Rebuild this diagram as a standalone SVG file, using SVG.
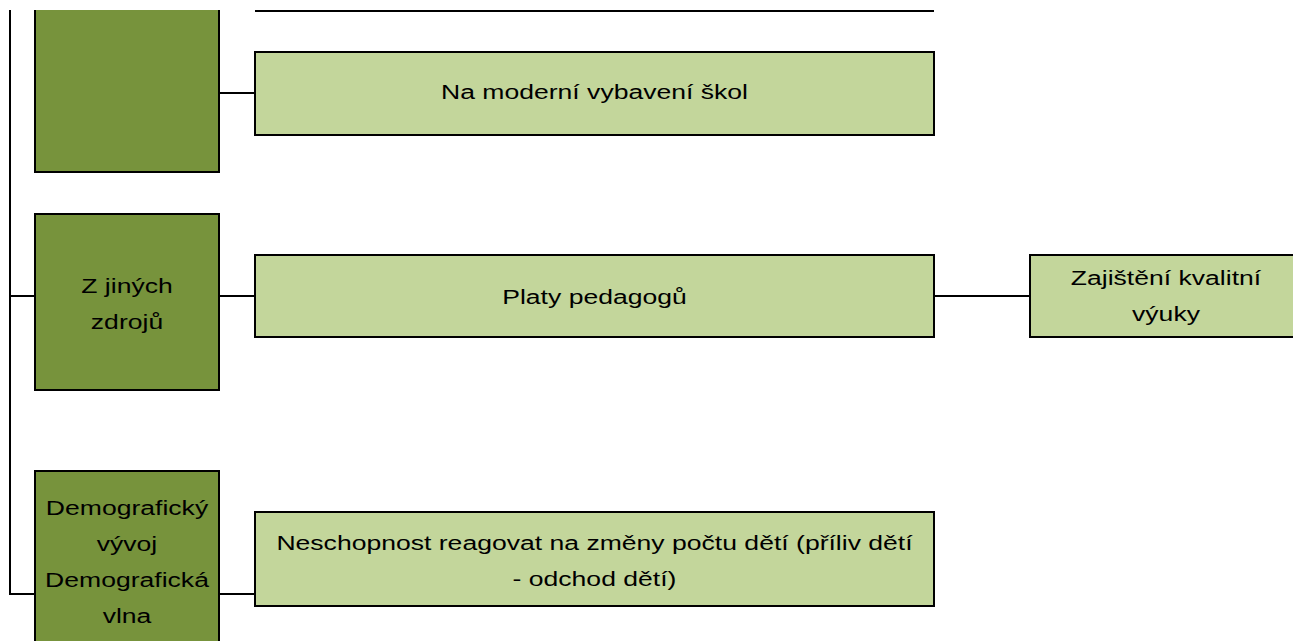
<svg xmlns="http://www.w3.org/2000/svg" width="1293" height="641" viewBox="0 0 1293 641">
<style>
.dark{fill:#77933C;stroke:#000;stroke-width:2}
.light{fill:#C3D69B;stroke:#000;stroke-width:2}
.ln{fill:none;stroke:#000;stroke-width:2}
text{font-family:"Liberation Sans",Arial,sans-serif;font-size:21px;fill:#000;text-anchor:middle}
</style>
<rect width="1293" height="641" fill="#fff"/>
<g id="connectors">
<path class="ln" d="M10,10 V594 H35"/>
<path class="ln" d="M10,296 H35"/>
<path class="ln" d="M255,11 H934"/>
<path class="ln" d="M219,93 H255"/>
<path class="ln" d="M219,296 H255"/>
<path class="ln" d="M934,296 H1030"/>
<path class="ln" d="M219,594 H255"/>
</g>
<g id="node-top-left">
<rect x="35" y="10" width="184" height="162" fill="#77933C"/>
<path class="ln" d="M35,10 V172 H219 V10"/>
</g>
<g id="node-vybaveni">
<rect class="light" x="255" y="52" width="679" height="83"/>
<text transform="translate(594.5,99) scale(1.265,1)">Na moderní vybavení škol</text>
</g>
<g id="node-zdroje">
<rect class="dark" x="35" y="214" width="184" height="176"/>
<text transform="translate(127,293) scale(1.265,1)"><tspan x="0" y="0">Z jiných</tspan><tspan x="0" y="36">zdrojů</tspan></text>
</g>
<g id="node-platy">
<rect class="light" x="255" y="255" width="679" height="82"/>
<text transform="translate(594.5,304) scale(1.265,1)">Platy pedagogů</text>
</g>
<g id="node-vyuka">
<rect class="light" x="1030" y="255" width="272" height="82"/>
<text transform="translate(1166,285) scale(1.265,1)"><tspan x="0" y="0">Zajištění kvalitní</tspan><tspan x="0" y="36">výuky</tspan></text>
</g>
<g id="node-demografie">
<rect class="dark" x="35" y="471" width="184" height="190"/>
<text transform="translate(127,515) scale(1.265,1)"><tspan x="0" y="0">Demografický</tspan><tspan x="0" y="36">vývoj</tspan><tspan x="0" y="72">Demografická</tspan><tspan x="0" y="108">vlna</tspan></text>
</g>
<g id="node-neschopnost">
<rect class="light" x="255" y="512" width="679" height="94"/>
<text transform="translate(594.5,550) scale(1.265,1)"><tspan x="0" y="0">Neschopnost reagovat na změny počtu dětí (příliv dětí</tspan><tspan x="0" y="36">- odchod dětí)</tspan></text>
</g>
</svg>
